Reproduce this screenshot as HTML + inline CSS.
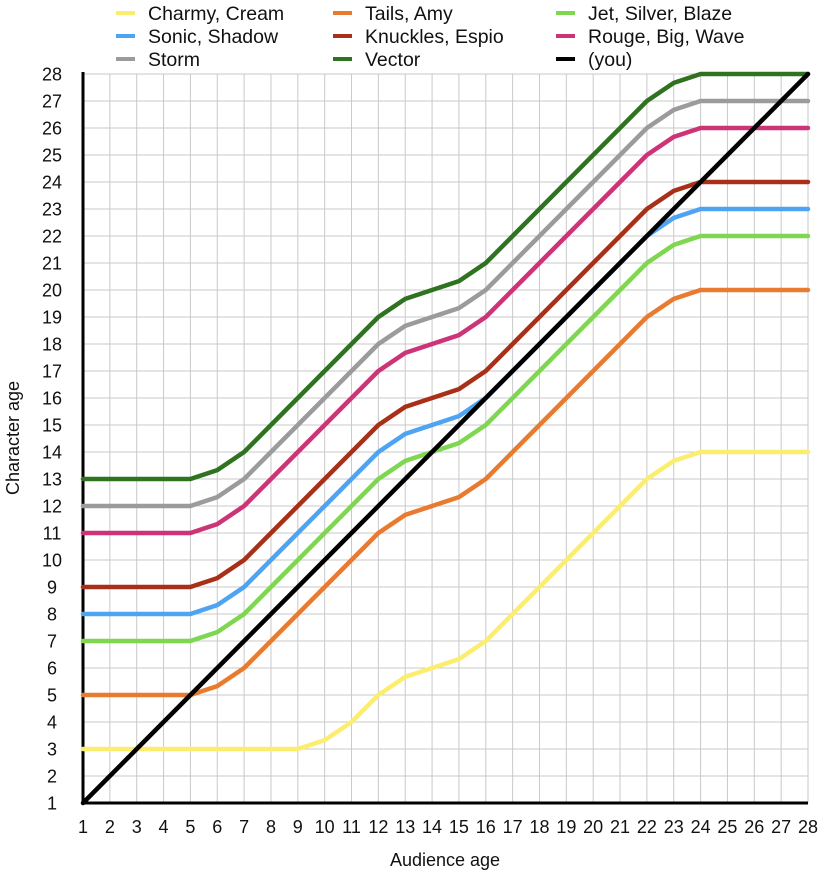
<!DOCTYPE html>
<html><head><meta charset="utf-8"><style>
body{margin:0;background:#fff;}
svg text{font-family:"Liberation Sans",Arial,sans-serif;fill:#111;}
</style></head><body>
<svg id="c" width="820" height="870" xmlns="http://www.w3.org/2000/svg"></svg>
<script>
const ages=[1,2,3,4,5,6,7,8,9,10,11,12,13,14,15,16,17,18,19,20,21,22,23,24,25,26,27,28];
const seriesNames=["Charmy, Cream","Tails, Amy","Jet, Silver, Blaze","Sonic, Shadow","Knuckles, Espio","Rouge, Big, Wave","Storm","Vector","(you)"];
const seriesColors=["#fbee6f","#e97b30","#7fd651","#4ea3f3","#a93018","#cc3477","#9b9b9b","#2f7220","#000000"];
const charmy=[3,3,3,3,3,3,3,3,3,3.33,4,5,5.67,6,6.33,7,8,9,10,11,12,13,13.67,14,14,14,14,14];
const tails=[5,5,5,5,5,5.33,6,7,8,9,10,11,11.67,12,12.33,13,14,15,16,17,18,19,19.67,20,20,20,20,20];
const jet=[7,7,7,7,7,7.33,8,9,10,11,12,13,13.67,14,14.33,15,16,17,18,19,20,21,21.67,22,22,22,22,22];
const sonic=[8,8,8,8,8,8.33,9,10,11,12,13,14,14.67,15,15.33,16,17,18,19,20,21,22,22.67,23,23,23,23,23];
const knuckles=[9,9,9,9,9,9.33,10,11,12,13,14,15,15.67,16,16.33,17,18,19,20,21,22,23,23.67,24,24,24,24,24];
const rouge=[11,11,11,11,11,11.33,12,13,14,15,16,17,17.67,18,18.33,19,20,21,22,23,24,25,25.67,26,26,26,26,26];
const storm=[12,12,12,12,12,12.33,13,14,15,16,17,18,18.67,19,19.33,20,21,22,23,24,25,26,26.67,27,27,27,27,27];
const vector=[13,13,13,13,13,13.33,14,15,16,17,18,19,19.67,20,20.33,21,22,23,24,25,26,27,27.67,28,28,28,28,28];
const you=[1,2,3,4,5,6,7,8,9,10,11,12,13,14,15,16,17,18,19,20,21,22,23,24,25,26,27,28];
const allSeries=[charmy,tails,jet,sonic,knuckles,rouge,storm,vector,you];
const yTicks=[1,2,3,4,5,6,7,8,9,10,11,12,13,14,15,16,17,18,19,20,21,22,23,24,25,26,27,28];

const X0=83,X1=808,Y0=803,Y1=74;
const xS=v=>X0+(v-1)*(X1-X0)/27;
const yS=v=>Y0-(v-1)*(Y0-Y1)/27;
const svg=document.getElementById('c');
const NS="http://www.w3.org/2000/svg";
function mk(t,a,p){const e=document.createElementNS(NS,t);for(const k in a)e.setAttribute(k,a[k]);(p||svg).appendChild(e);return e;}

const grid=mk('g',{});


ages.forEach(a=>{if(a>1){const l=mk('line',{x1:xS(a),x2:xS(a),y1:Y1,y2:Y0,stroke:'#c9c9c9','stroke-width':1},grid);

}});
yTicks.forEach(v=>{if(v>1){const l=mk('line',{x1:X0,x2:X1,y1:yS(v),y2:yS(v),stroke:'#c9c9c9','stroke-width':1},grid);

}});

const yl=mk('g',{'font-size':18,'text-anchor':'middle'});


yTicks.forEach(v=>{const t=mk('text',{x:52,y:yS(v)+6.5},yl);t.textContent=v;

});
const xl=mk('g',{'font-size':18,'text-anchor':'middle'});


ages.forEach(a=>{const t=mk('text',{x:xS(a),y:833},xl);t.textContent=a;

});

const ax=mk('path',{d:`M${X0},${Y1-2}V${Y0}H${X1}`,fill:'none',stroke:'#000','stroke-width':3});



allSeries.forEach((s,i)=>{
 const p=mk('polyline',{points:s.map((v,j)=>xS(ages[j])+','+yS(v)).join(' '),fill:'none',stroke:seriesColors[i],'stroke-width':4.5,'stroke-linejoin':'round','stroke-linecap':'round'});
 
 
});

const lg=mk('g',{'font-size':19.5});


const colX=[116,333,556],rowY=[13,36,59];
seriesNames.forEach((nm,k)=>{
 const c=k%3,r=Math.floor(k/3);
 const g=mk('g',{},lg);
 
 
 mk('line',{x1:colX[c],x2:colX[c]+19,y1:rowY[r],y2:rowY[r],stroke:seriesColors[k],'stroke-width':4},g);
 const t=mk('text',{x:colX[c]+32,y:rowY[r]+7},g);t.textContent=nm;
});
const xt=mk('text',{x:445,y:866,'font-size':18,'text-anchor':'middle'});xt.textContent='Audience age';


const yt=mk('text',{x:0,y:0,'font-size':18,'text-anchor':'middle',transform:'translate(19,438) rotate(-90)'});yt.textContent='Character age';


</script>
</body></html>
